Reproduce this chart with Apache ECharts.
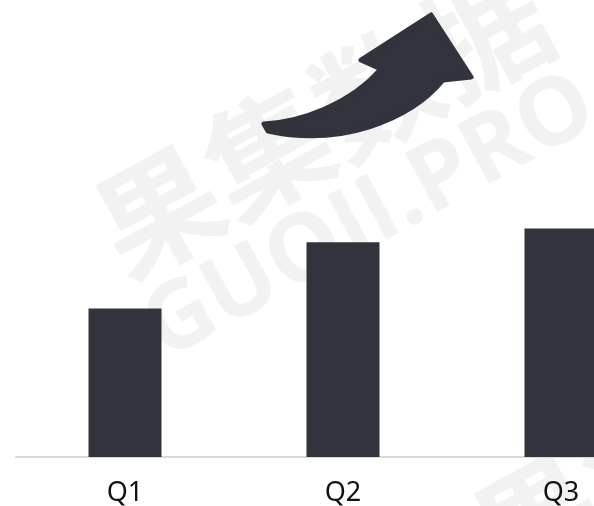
<!DOCTYPE html>
<html>
<head>
<meta charset="utf-8">
<script src="https://cdn.jsdelivr.net/npm/echarts@6/dist/echarts.min.js"></script>
<style>html,body{margin:0;padding:0;background:#fff;}#c{width:594px;height:506px;}</style>
</head>
<body>
<div id="c"></div>
<script>
var categories = ['Q1', 'Q2', 'Q3'];
var values = [65, 94, 100];

var UpArrow = echarts.graphic.extendShape({
  shape: {},
  buildPath: function (ctx) {
    ctx.moveTo(264, 124);
    ctx.bezierCurveTo(300, 122, 350, 105, 381, 69);
    ctx.lineTo(361, 60);
    ctx.lineTo(431, 15);
    ctx.lineTo(471, 77);
    ctx.lineTo(443, 80);
    ctx.bezierCurveTo(410, 120, 340, 147, 268, 131);
    ctx.closePath();
  }
});
echarts.graphic.registerShape('upArrow', UpArrow);

var chart = echarts.init(document.getElementById('c'));
var dark = '#31343d';
var wm = '#f2f2f2';
chart.setOption({
  animation: false,
  backgroundColor: '#ffffff',
  grid: { left: 16, right: -76, top: 0, bottom: 49, outerBoundsMode: 'none', containLabel: false },
  xAxis: {
    type: 'category',
    data: categories,
    axisLine: { lineStyle: { color: '#d9d9d9', width: 2 } },
    axisTick: { show: false },
    axisLabel: { color: '#111', fontSize: 27, margin: 23, fontFamily: 'Noto Sans, Open Sans, sans-serif' }
  },
  yAxis: { type: 'value', min: 0, max: 200, show: false, splitLine: { show: false } },
  graphic: [
    { type: 'text', z: -10, x: 322, y: 122, rotation: Math.PI / 6.3,
      style: { text: '果集数据', fill: wm, font: 'bold 124px "Noto Sans CJK SC"', align: 'center', verticalAlign: 'middle' } },
    { type: 'text', z: -10, x: 370, y: 218, rotation: Math.PI / 6.3,
      style: { text: 'GUOJI.PRO', fill: wm, font: 'bold 94px "Open Sans"', align: 'center', verticalAlign: 'middle' } },
    { type: 'text', z: -10, x: 700, y: 430, rotation: Math.PI / 6.3,
      style: { text: '果集数据', fill: wm, font: 'bold 124px "Noto Sans CJK SC"', align: 'center', verticalAlign: 'middle' } },
    { type: 'upArrow', z: 10,
      style: { fill: dark, stroke: dark, lineWidth: 5, lineJoin: 'round' } }
  ],
  series: [{
    type: 'bar',
    data: values,
    barWidth: 73,
    itemStyle: { color: dark },
    z: 5
  }]
});
</script>
</body>
</html>
